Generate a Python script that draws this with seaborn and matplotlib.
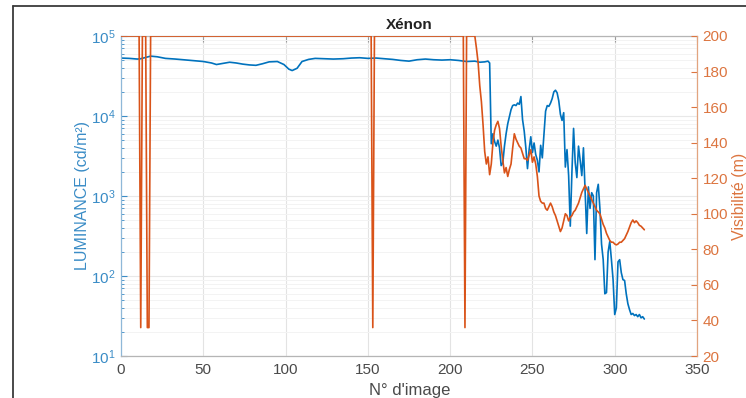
import numpy as np
import pandas as pd
import matplotlib
matplotlib.use("Agg")
import matplotlib.pyplot as plt
import seaborn as sns
from matplotlib.lines import Line2D
from matplotlib.ticker import LogLocator, FixedLocator, NullLocator

# ---------------- data ----------------
lum_x = [0, 5, 10, 12, 15, 18, 22, 27, 33, 40, 45, 50, 55, 58, 62, 66, 70, 74, 78, 82,
         86, 90, 95, 99, 102, 104, 107, 110, 114, 118, 123, 129, 135, 140, 145, 150, 155,
         160, 165, 170, 175, 180, 185, 190, 195, 200, 205, 210, 215, 218, 221, 223,
         224, 225, 226, 227, 228, 229, 230, 231, 232, 233, 234, 235, 236, 237, 238, 239,
         240, 241, 242, 243, 244, 245, 246, 247, 248, 249, 250, 251, 252, 253, 254, 255,
         256, 257, 258, 259, 260, 261, 262, 263, 264, 265, 266, 267, 268, 269, 270, 271,
         272, 273, 274, 275, 276, 277, 278, 279, 280, 281, 282, 283, 284, 285, 286, 287,
         288, 289, 290, 291, 292, 293, 294, 295, 296, 297, 298, 299, 300, 301, 302, 303,
         304, 305, 306, 307, 308, 309, 310, 311, 312, 313, 314, 315, 316, 317, 318]
lum_vals = [53000, 52500, 51500, 52000, 54000, 56000, 55000, 52500, 51500, 50000, 49000,
            48000, 46000, 44000, 45500, 47000, 46000, 44500, 43500, 43000, 45000, 47500,
            48000, 44000, 38500, 37000, 39500, 48000, 51000, 52500, 52000, 51500, 52000,
            53000, 53500, 52500, 53000, 52000, 51000, 49500, 48500, 50500, 51500, 50500,
            50000, 50500, 49500, 48000, 48500, 47000, 47500, 48500,
            46000, 4500, 6000, 4800, 4200, 5000, 4000, 2400, 2600, 4200, 6000, 8000,
            9800, 12000, 13500, 13800, 13500, 14500, 14000, 17500, 9000, 6500, 4000,
            2200, 3800, 5500, 3500, 4600, 3300, 2800, 2000, 4300, 3000, 6000, 11500,
            13500, 13200, 14500, 16500, 20000, 21000, 19500, 15500, 10500, 8800, 11000,
            2300, 3800, 1800, 420, 2000, 7000, 2600, 1700, 4200, 2800, 1800, 4000, 1200,
            340, 1300, 700, 1100, 1000, 160, 1100, 1400, 700, 250, 160, 60, 62, 200, 270,
            160, 90, 33, 40, 150, 160, 110, 90, 88, 60, 45, 38, 33, 34, 32, 33, 31, 33,
            30, 31, 29]

vis_x = [0, 11, 12, 13, 15, 16, 17, 18, 152, 153, 154, 208, 209, 210, 215, 216, 217,
         218, 219, 220, 221, 222, 223, 224, 225, 226, 227, 228, 229, 230, 231, 232, 233,
         234, 235, 236, 237, 238, 239, 240, 241, 242, 243, 244, 245, 246, 247, 248, 249,
         250, 251, 252, 253, 254, 255, 256, 257, 258, 259, 260, 261, 262, 263, 264, 265,
         266, 267, 268, 269, 270, 271, 272, 273, 274, 275, 276, 277, 278, 279, 280, 281,
         282, 283, 284, 285, 286, 287, 288, 289, 290, 291, 292, 293, 294, 295, 296, 297,
         298, 299, 300, 301, 302, 303, 304, 305, 306, 307, 308, 309, 310, 311, 312, 313,
         314, 315, 316, 317, 318]
vis_vals = [200, 200, 36, 200, 200, 36, 36, 200, 200, 36, 200, 200, 36, 200, 200, 193,
            185, 172, 163, 150, 135, 128, 132, 122, 128, 140, 147, 150, 152, 148, 138,
            130, 123, 126, 121, 125, 128, 137, 145, 142, 140, 138, 137, 134, 131, 131,
            130, 133, 136, 129, 132, 128, 121, 110, 107, 106, 106, 103, 102, 104, 106,
            104, 101, 99, 96, 93, 90, 92, 96, 100, 99, 96, 98, 99, 101, 102, 104, 106,
            109, 112, 114, 116, 114, 112, 110, 108, 106, 104, 102, 101, 100, 97, 94, 92,
            89, 87, 85, 84, 84, 83, 82.5, 83, 84, 84, 85, 86, 88, 90, 92.5, 95, 96.5,
            95, 96, 95, 93.5, 93, 92, 91]

title = "Xénon"
xlabel = "N° d'image"
ylabel_left = "LUMINANCE (cd/m²)"
ylabel_right = "Visibilité (m)"

# ---------------- style ----------------
sns.set_theme(style="white")
plt.rcParams['font.family'] = ['Liberation Sans', 'DejaVu Sans']
plt.rcParams['mathtext.fontset'] = 'custom'
plt.rcParams['mathtext.rm'] = 'Liberation Sans'
plt.rcParams['mathtext.it'] = 'Liberation Sans:italic'

BLUE = '#0072BD'
ORANGE = '#D95319'
BLUE_T = '#3a8cc6'
ORANGE_T = '#dc7540'
GRAY_T = '#4a4a4a'

fig = plt.figure(figsize=(7.46, 3.98), dpi=100)
ax = fig.add_axes([121/746, 1-356/398, 576/746, 320/398])
ax2 = ax.twinx()

df_l = pd.DataFrame({'x': lum_x, 'y': lum_vals})
df_v = pd.DataFrame({'x': vis_x, 'y': vis_vals})

sns.lineplot(data=df_l, x='x', y='y', ax=ax, color=BLUE, lw=1.2, estimator=None, sort=False)
sns.lineplot(data=df_v, x='x', y='y', ax=ax2, color=ORANGE, lw=1.2, estimator=None, sort=False)

ax.set_yscale('log')
ax.set_ylim(10, 1e5)
ax.set_xlim(0, 350)
ax2.set_ylim(20, 200)

ax.xaxis.set_major_locator(FixedLocator([0, 50, 100, 150, 200, 250, 300, 350]))
ax.xaxis.set_minor_locator(NullLocator())
ax.yaxis.set_major_locator(LogLocator(base=10, numticks=10))
ax.yaxis.set_minor_locator(LogLocator(base=10, subs=np.arange(2, 10), numticks=20))
ax2.yaxis.set_major_locator(FixedLocator(list(range(20, 201, 20))))

# grid
ax.grid(True, which='major', axis='x', color='#e3e3e3', lw=0.8)
ax.grid(True, which='major', axis='y', color='#e8e8e8', lw=0.8)
ax.grid(True, which='minor', axis='y', color='#f3f3f3', lw=0.7)
ax.set_axisbelow(True)

# ticks
ax.tick_params(axis='x', which='both', direction='in', top=True, length=4, width=0.8,
               colors='#9a9a9a', labelcolor=GRAY_T, labelsize=11, pad=5)
ax.tick_params(axis='y', which='major', direction='in', length=4, width=0.8,
               colors=BLUE_T, labelcolor=BLUE_T, labelsize=11, pad=4)
ax.tick_params(axis='y', which='minor', direction='in', length=2.5, width=0.6, colors=BLUE_T)
ax2.tick_params(axis='y', which='major', direction='in', length=4, width=0.8,
                colors=ORANGE_T, labelcolor=ORANGE_T, labelsize=11, pad=4)

for s in ['top', 'bottom']:
    ax.spines[s].set_color('#b5b5b5')
    ax.spines[s].set_linewidth(0.9)
ax.spines['left'].set_color('#8fb8d8')
ax.spines['left'].set_linewidth(0.9)
ax.spines['right'].set_visible(False)
for s in ['top', 'bottom', 'left']:
    ax2.spines[s].set_visible(False)
ax2.spines['right'].set_color('#e2a47f')
ax2.spines['right'].set_linewidth(0.9)

ax.set_xlabel(xlabel, fontsize=12, color=GRAY_T)
ax.xaxis.set_label_coords(0.502, -0.085)
ax.set_ylabel(ylabel_left, fontsize=11.5, color=BLUE_T)
ax.yaxis.set_label_coords(-0.053, 0.5)
ax2.set_ylabel(ylabel_right, fontsize=11.5, color=ORANGE_T, rotation=90)
ax2.yaxis.set_label_coords(1.061, 0.5)
ax.set_title(title, fontsize=11, fontweight='bold', color='#222222', pad=5)

# outer frame of the original screenshot
fig.add_artist(Line2D([13/746, 13/746], [0, 1-6/398], transform=fig.transFigure,
                      color='#3a3a3a', lw=1.3))
fig.add_artist(Line2D([13/746, 1], [1-6/398, 1-6/398], transform=fig.transFigure,
                      color='#3a3a3a', lw=1.3))

fig.savefig('out.png', dpi=100)
